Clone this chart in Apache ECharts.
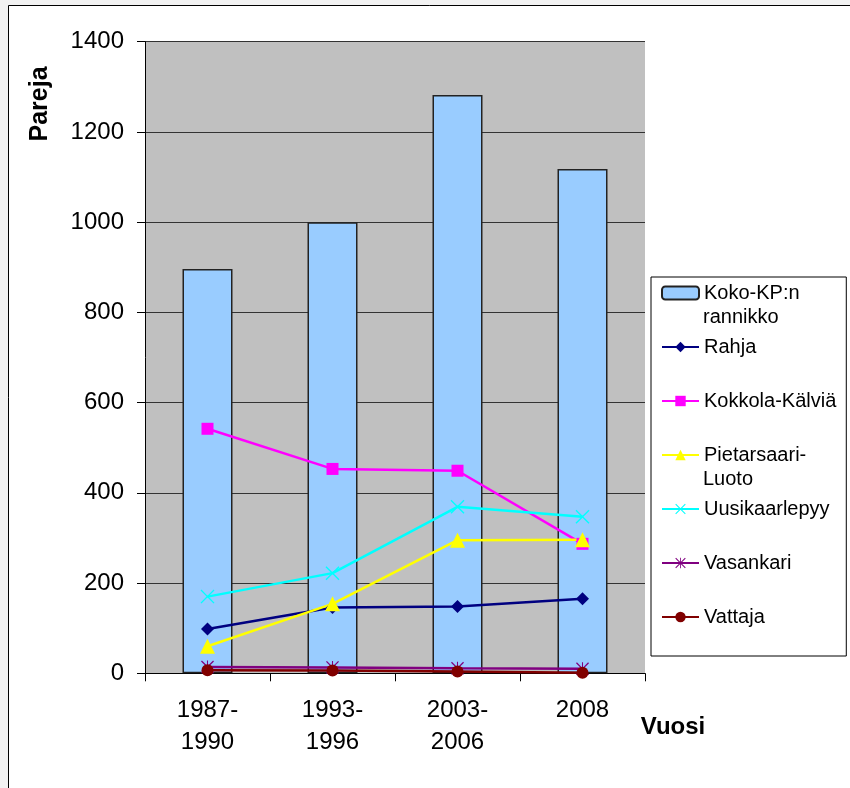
<!DOCTYPE html>
<html>
	<head>
		<meta charset="utf-8" />
		<title>Pareja</title>
		<script src="https://cdn.jsdelivr.net/npm/echarts@6/dist/echarts.min.js"></script>
		<style>
			html, body{
				margin: 0;
				padding: 0;
				background: #f2f2f2;
			}
			#main{
				width: 850px;
				height: 788px;
			}
		</style>
	</head>
	<body>
	<div id="main"></div>
	</body>
	<script type="text/javascript">

	  // vuodet
	  var vuodet = ['1987-\n1990', '1993-\n1996', '2003-\n2006', '2008'];
	  var yTicks = [0, 200, 400, 600, 800, 1000, 1200, 1400];

	  // pareja
	  var kokoKP = [896, 1000, 1282, 1118];
	  var rahja = [98, 146, 148, 165];
	  var kokkola = [542, 453, 449, 287];
	  var pietarsaari = [60, 154, 295, 296];
	  var uusikaarlepyy = [170, 222, 369, 347];
	  var vasankari = [14, 13, 11, 10];
	  var vattaja = [7, 6, 4, 1];

	  // selitteen rivit (toinen rivi piirretään erikseen)
	  var legendText = {
		  'Koko-KP:n rannikko': ['Koko-KP:n', 'rannikko'],
		  'Pietarsaari-Luoto': ['Pietarsaari-', 'Luoto']
	  };

	  var xMark = 'path://M0,0.7 L0.7,0 L5,4.3 L9.3,0 L10,0.7 L5.7,5 L10,9.3 L9.3,10 L5,5.7 L0.7,10 L0,9.3 L4.3,5 Z';
	  var starMark = xMark + ' M4.6,0 L5.4,0 L5.4,10 L4.6,10 Z';

	  var font = '"Liberation Sans", Arial, sans-serif';

	  function lineSerie(name, data, color, symbol, size) {
		  return {
			  name: name,
			  type: 'line',
			  data: data,
			  symbol: symbol,
			  symbolSize: size,
			  color: color,
			  lineStyle: {color: color, width: 2.5},
			  itemStyle: {color: color}
		  };
	  }

	  // selite
	  var lgLeft = 651, lgTop = 277, lgPad = [4, 10, 27, 10];
	  var lgIconW = 37, lgRow = 24, lgGap = 30;
	  var lgTextX = lgLeft + lgPad[3] + lgIconW + 5;

	  function secondRow(name, index) {
		  var y = lgTop + lgPad[0] + index * (lgRow + lgGap) + lgRow / 2 + lgRow;
		  return {type: 'text', x: lgTextX, y: y, z: 10,
			  style: {text: legendText[name][1], font: '20px ' + font, fill: '#000', align: 'left', verticalAlign: 'middle'}};
	  }

	  var myChart = echarts.init(document.getElementById('main'));

	  myChart.setOption({
		  animation: false,
		  backgroundColor: 'transparent',
		  textStyle: {fontFamily: font},
		  graphic: [
			  // kehys
			  {type: 'rect', z: -10, shape: {x: 8.5, y: 5.5, width: 900, height: 900},
			   style: {fill: '#fff', stroke: '#000', lineWidth: 1}},
			  {type: 'text', x: 40, y: 104, rotation: Math.PI / 2,
			   style: {text: 'Pareja', font: 'bold 25px ' + font, fill: '#000', align: 'center', verticalAlign: 'middle'}},
			  {type: 'text', x: 673, y: 727,
			   style: {text: 'Vuosi', font: 'bold 24px ' + font, fill: '#000', align: 'center', verticalAlign: 'middle'}},
			  secondRow('Koko-KP:n rannikko', 0),
			  secondRow('Pietarsaari-Luoto', 3)
		  ],
		  grid: {
			  left: 145, top: 41.7, width: 500, height: 631.6,
			  show: true, backgroundColor: '#c0c0c0', borderWidth: 0
		  },
		  legend: {
			  orient: 'vertical',
			  left: lgLeft, top: lgTop,
			  padding: lgPad,
			  itemGap: lgGap,
			  itemWidth: lgIconW,
			  itemHeight: 13,
			  backgroundColor: '#fff',
			  borderColor: '#000',
			  borderWidth: 1,
			  borderRadius: 0,
			  formatter: function (name) {
				  return legendText[name] ? legendText[name][0] : name;
			  },
			  textStyle: {fontSize: 20, color: '#000', lineHeight: lgRow, fontFamily: font}
		  },
		  xAxis: {
			  type: 'category',
			  data: vuodet,
			  axisLine: {lineStyle: {color: '#000', width: 1}},
			  axisTick: {show: true, length: 8, lineStyle: {color: '#000'}},
			  axisLabel: {color: '#000', fontSize: 24, lineHeight: 32, margin: 21, fontFamily: font}
		  },
		  yAxis: {
			  type: 'value',
			  min: yTicks[0],
			  max: yTicks[yTicks.length - 1],
			  interval: 200,
			  axisLine: {show: true, lineStyle: {color: '#000', width: 1}},
			  axisTick: {show: true, length: 8, lineStyle: {color: '#000'}},
			  axisLabel: {color: '#000', fontSize: 24, margin: 21, fontFamily: font,
				  formatter: function (v) { return String(v); }},
			  splitLine: {show: true, lineStyle: {color: '#333', width: 1}}
		  },
		  series: [
			  {
				  name: 'Koko-KP:n rannikko',
				  type: 'bar',
				  data: kokoKP,
				  barWidth: 50,
				  legendIcon: 'rect',
				  itemStyle: {color: '#99ccff', borderColor: '#222', borderWidth: 1.5, borderRadius: 0}
			  },
			  lineSerie('Rahja', rahja, '#000080', 'diamond', 13),
			  lineSerie('Kokkola-Kälviä', kokkola, '#ff00ff', 'rect', 12),
			  lineSerie('Pietarsaari-Luoto', pietarsaari, '#ffff00', 'triangle', 15),
			  lineSerie('Uusikaarlepyy', uusikaarlepyy, '#00ffff', xMark, 14),
			  lineSerie('Vasankari', vasankari, '#800080', starMark, 13),
			  lineSerie('Vattaja', vattaja, '#800000', 'circle', 12)
		  ]
	  });

	</script>
</html>
